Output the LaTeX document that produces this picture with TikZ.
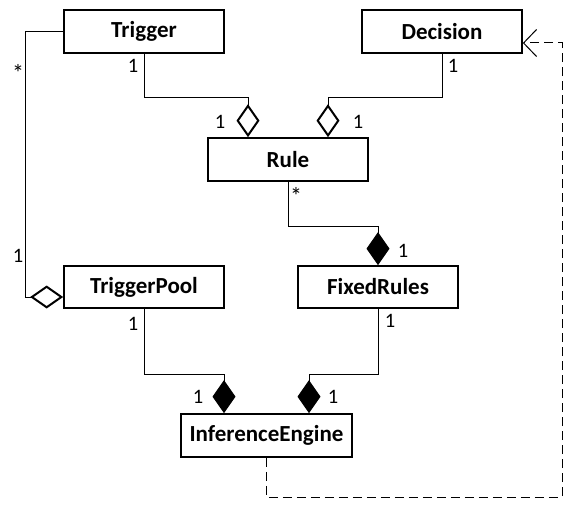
\documentclass[tikz,border=0pt]{standalone}
\usepackage{fontspec}
\setmainfont{Carlito}
\usetikzlibrary{arrows.meta}
\tikzset{
  cls/.style={draw, line width=1.7pt, fill=white, inner sep=0pt,
    font=\fontsize{23}{23}\selectfont\bfseries, minimum width=160pt, minimum height=43pt},
  conn/.style={line width=1pt},
  agg/.style={conn, -{Diamond[open, length=33pt, width=23pt, line width=2pt]}},
  comp/.style={conn, -{Diamond[length=33pt, width=23pt]}},
  dep/.style={line width=1pt, dash pattern=on 9pt off 5pt, -{Straight Barb[length=13pt, width=27pt, line width=1pt]}},
  lbl/.style={inner sep=0pt, font=\fontsize{20.5}{20.5}\selectfont},
  star/.style={inner sep=0pt, font=\fontsize{24}{24}\selectfont},
}
\begin{document}
\begin{tikzpicture}[x=1pt, y=-1pt]
\useasboundingbox (0,0) rectangle (581,516);
% classes
\node[cls] (trigger) at (144,31.5) {Trigger};
\node[cls] (decision) at (442,31.5) {Decision};
\node[cls] (rule) at (288,159.5) {Rule};
\node[cls, minimum height=42pt] (pool) at (144,287) {TriggerPool};
\node[cls, minimum height=42pt] (fixed) at (378,287) {FixedRules};
\node[cls, minimum width=171pt] (engine) at (266.5,435.5) {InferenceEngine};
% helper coordinates
\coordinate (tr1) at (144,98);
\coordinate (tr2) at (248,98);
\coordinate (de1) at (442,98);
\coordinate (de2) at (328,98);
\coordinate (ru1) at (288,226);
\coordinate (ru2) at (378,226);
\coordinate (tp1) at (25,32);
\coordinate (tp2) at (25,297);
\coordinate (pe1) at (144,374);
\coordinate (pe2) at (224,374);
\coordinate (fe1) at (378,374);
\coordinate (fe2) at (309,374);
\coordinate (dd1) at (266,497);
\coordinate (dd2) at (562,497);
\coordinate (dd3) at (562,43);
% connectors
\draw[agg] (trigger.south) -- (tr1) -- (tr2) -- (tr2 |- rule.north);
\draw[agg] (decision.south) -- (de1) -- (de2) -- (de2 |- rule.north);
\draw[comp] (rule.south -| ru1) -- (ru1) -- (ru2) -- (fixed.north);
\draw[agg] (trigger.west |- tp1) -- (tp1) -- (tp2) -- (tp2 -| pool.west);
\draw[comp] (pool.south) -- (pe1) -- (pe2) -- (pe2 |- engine.north);
\draw[comp] (fixed.south) -- (fe1) -- (fe2) -- (fe2 |- engine.north);
\draw[dep] (engine.south -| dd1) -- (dd1) -- (dd2) -- (dd3) -- (dd3 -| decision.east);
% multiplicities
\node[lbl] (m1) at (133,66) {1};
\node[lbl] (m2) at (220,122) {1};
\node[lbl] (m3) at (453,66) {1};
\node[lbl] (m4) at (358,122) {1};
\node[star] (m5) at (18,73) {*};
\node[lbl] (m6) at (18,256) {1};
\node[star] (m7) at (296,196) {*};
\node[lbl] (m8) at (403,251) {1};
\node[lbl] (m9) at (133,324) {1};
\node[lbl] (m10) at (390,321) {1};
\node[lbl] (m11) at (198,397) {1};
\node[lbl] (m12) at (333,397) {1};
\end{tikzpicture}
\end{document}
